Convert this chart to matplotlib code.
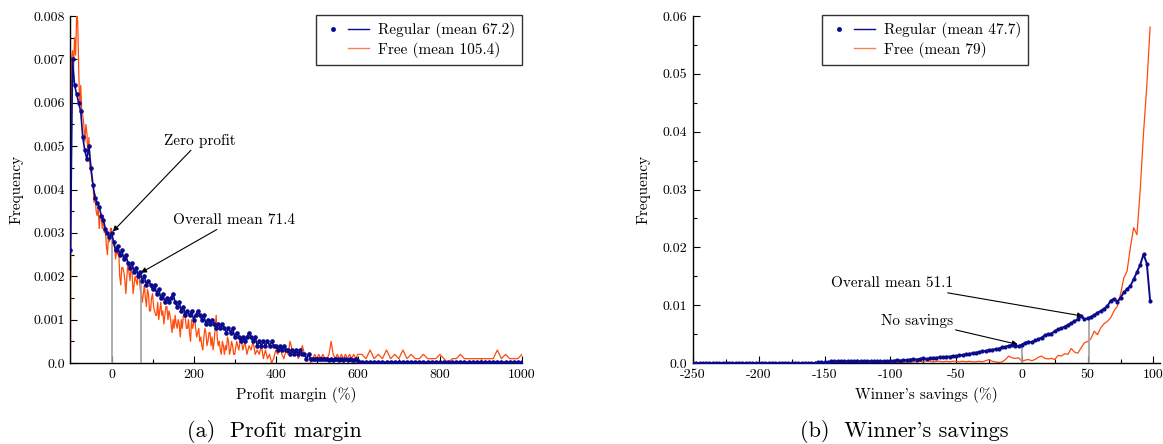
import numpy as np
import matplotlib
matplotlib.use("Agg")
import matplotlib.pyplot as plt
from matplotlib.lines import Line2D
from matplotlib.legend_handler import HandlerTuple

# ---------------- data: (a) profit margin ----------------
pm_reg_x = np.concatenate([np.arange(-100, 601, 5), np.arange(610, 1001, 10)])
pm_regular = [
    0.0026, 0.0070, 0.0064, 0.0062, 0.0060, 0.0058, 0.0052, 0.0049, 0.0047, 0.0050,
    0.0045, 0.0041, 0.0038, 0.0037, 0.0036, 0.0034, 0.0033, 0.0031, 0.0030, 0.0029,
    0.0030, 0.0028, 0.0026, 0.0027, 0.0025, 0.0026, 0.0024, 0.0025, 0.0023, 0.0022,
    0.0023, 0.0021, 0.0022, 0.0020, 0.0021, 0.0019, 0.0020, 0.0018, 0.0019, 0.0018,
    0.0017, 0.0018, 0.0016, 0.0017, 0.0015, 0.0016, 0.0014, 0.0015, 0.0014, 0.0015,
    0.0016, 0.0014, 0.0013, 0.0014, 0.0012, 0.0013, 0.0011, 0.0012, 0.0011, 0.0012,
    0.0010, 0.0011, 0.0012, 0.0011, 0.0010, 0.0011, 0.0009, 0.0010, 0.0009, 0.0010,
    0.0009, 0.0008, 0.0009, 0.0008, 0.0009, 0.0008, 0.0007, 0.0008, 0.0007, 0.0008,
    0.0006, 0.0007, 0.0006, 0.0005, 0.0006, 0.0005, 0.0006, 0.0007, 0.0006, 0.0005,
    0.0006, 0.0004, 0.0005, 0.0004, 0.0005, 0.0004, 0.0005, 0.0004, 0.0005, 0.0004,
    0.0004, 0.0003, 0.0004, 0.0003, 0.0004, 0.0003, 0.0003, 0.0002, 0.0003, 0.0002,
    0.0003, 0.0002, 0.0003, 0.0002, 0.0002, 0.0001, 0.0002, 0.0001, 0.0001, 0.0001,
    0.0001, 0.0001, 0.0001, 0.0001, 0.0001, 0.0001, 0.00007, 0.0001, 0.00007, 0.0001,
    0.0001, 0.00007, 0.0001, 0.00007, 0.0001, 0.00007, 0.0001, 0.00007, 0.00007, 0.0001,
    0.00005,
    # 610 .. 1000
    0.00002, 0.00002, 0.00002, 0.00002, 0.00002, 0.00002, 0.00002, 0.00002, 0.00002, 0.00002,
    0.00002, 0.00002, 0.00002, 0.00002, 0.00002, 0.00002, 0.00002, 0.00002, 0.00002, 0.00002,
    0.00002, 0.00002, 0.00002, 0.00002, 0.00002, 0.00002, 0.00002, 0.00002, 0.00002, 0.00002,
    0.00002, 0.00002, 0.00002, 0.00002, 0.00002, 0.00002, 0.00002, 0.00002, 0.00002, 0.00002,
]
pm_free_x = np.concatenate([np.arange(-100, 300.1, 2.5), np.arange(305, 601, 5),
                            np.arange(610, 1001, 10)])
pm_free = [
    # -100 .. 297.5 (step 2.5)
    0.0000, 0.0070, 0.0072, 0.0068, 0.0075, 0.0071, 0.0080, 0.0079, 0.0068, 0.0059,
    0.0064, 0.0058, 0.0057, 0.0055, 0.0051, 0.0055, 0.0053, 0.0048, 0.0052, 0.0045,
    0.0044, 0.0042, 0.0041, 0.0037, 0.0039, 0.0035, 0.0034, 0.0036, 0.0031, 0.0034,
    0.0034, 0.0031, 0.0034, 0.0030, 0.0031, 0.0027, 0.0025, 0.0029, 0.0028, 0.0031,
    0.0031, 0.0028, 0.0027, 0.0027, 0.0024, 0.0026, 0.0025, 0.0026, 0.0020, 0.0018,
    0.0022, 0.0022, 0.0021, 0.0019, 0.0016, 0.0020, 0.0023, 0.0021, 0.0019, 0.0022,
    0.0021, 0.0016, 0.0018, 0.0020, 0.0019, 0.0018, 0.0021, 0.0020, 0.0017, 0.0016,
    0.0014, 0.0016, 0.0018, 0.0015, 0.0013, 0.0017, 0.0016, 0.0012, 0.0012, 0.0015,
    0.0016, 0.0013, 0.0012, 0.0011, 0.0011, 0.0014, 0.0010, 0.0012, 0.0014, 0.0011,
    0.0012, 0.0009, 0.0011, 0.0013, 0.0013, 0.0010, 0.0012, 0.0011, 0.0009, 0.0007,
    0.0010, 0.0008, 0.0011, 0.0009, 0.0008, 0.0010, 0.0009, 0.0006, 0.0010, 0.0008,
    0.0011, 0.0012, 0.0010, 0.0008, 0.0008, 0.0010, 0.0007, 0.0005, 0.0010, 0.0008,
    0.0009, 0.0011, 0.0008, 0.0006, 0.0007, 0.0008, 0.0005, 0.0006, 0.0004, 0.0003,
    0.0006, 0.0008, 0.0007, 0.0004, 0.0005, 0.0007, 0.0007, 0.0004, 0.0006, 0.0003,
    0.0005, 0.0008, 0.0011, 0.0006, 0.0004, 0.0005, 0.0003, 0.0002, 0.0005, 0.0004,
    0.0002, 0.0004, 0.0003, 0.0006, 0.0005, 0.0002, 0.0003, 0.0005, 0.0004, 0.0002,
    0.0002,
    # 305 .. 600 (step 5)
    0.0005, 0.0003, 0.0006, 0.0003, 0.0005, 0.0002, 0.0004, 0.0003, 0.0005,
    0.0002, 0.0003, 0.0002, 0.0004, 0.0001, 0.0003, 0.0001, 0.0002, 0.0000, 0.0001,
    0.0003, 0.0002, 0.0004, 0.0002, 0.0001, 0.0003, 0.0002, 0.0005, 0.0003, 0.0002,
    0.0003, 0.0001, 0.0002, 0.0004, 0.0002, 0.0001, 0.0002, 0.0000, 0.0001, 0.0002,
    0.0001, 0.0002, 0.0001, 0.0002, 0.0001, 0.0001, 0.0002, 0.0005, 0.0002, 0.0001,
    0.0002, 0.0001, 0.0002, 0.0001, 0.0002, 0.0001, 0.0002, 0.0001, 0.0002, 0.0001,
    0.0002,
    # 610 .. 1000 (step 10)
    0.0002, 0.0001, 0.0003, 0.0001, 0.0002, 0.0001, 0.0003, 0.0001, 0.0002, 0.0001,
    0.0003, 0.0001, 0.0002, 0.0001, 0.0001, 0.0002, 0.0001, 0.0001, 0.0001, 0.0002,
    0.0001, 0.0000, 0.0001, 0.0001, 0.0002, 0.0001, 0.0001, 0.0001, 0.0001, 0.0001,
    0.0001, 0.0001, 0.0001, 0.0003, 0.0001, 0.0002, 0.0001, 0.0001, 0.0001, 0.0002,
]
pm_zero_x, pm_zero_y = 0.0, 0.00300
pm_mean_x, pm_mean_y = 71.4, 0.00205

# ---------------- data: (b) winner's savings ----------------
ws_reg_x = np.linspace(-250, 97.5, 140)
ws_regular = [
    # -250 .. -157.5
    0.0, 0.0, 0.0, 0.0, 0.0, 0.0, 0.0, 0.0, 0.0, 0.0,
    0.0, 0.0, 0.0, 0.0, 0.0, 0.0, 0.0, 0.0, 0.0, 0.0,
    0.0, 0.0, 0.0, 0.0, 0.0, 0.0, 0.0, 0.0, 0.0, 0.0,
    0.0, 0.0, 0.0, 0.0, 0.0, 0.0, 0.0, 0.0,
    # -155 .. -147.5
    0.0001, 0.0001, 0.0001, 0.0001,
    # -145 .. -102.5
    0.0003, 0.0003, 0.0003, 0.0003, 0.0003, 0.0003, 0.0003, 0.0003, 0.0003, 0.0003,
    0.0003, 0.0003, 0.0003, 0.0003, 0.0003, 0.0003, 0.0003, 0.0003,
    # -100 .. -77.5
    0.0004, 0.0004, 0.0005, 0.0004, 0.0005, 0.0005, 0.0006, 0.0007, 0.0006, 0.0007,
    # -75 .. -52.5
    0.0008, 0.0007, 0.0008, 0.0009, 0.0009, 0.0010, 0.0010, 0.0011, 0.0011, 0.0012,
    # -50 .. -27.5
    0.0012, 0.0013, 0.0014, 0.0015, 0.0016, 0.0017, 0.0018, 0.0019, 0.0020, 0.0021,
    # -25 .. -2.5
    0.0022, 0.0023, 0.0024, 0.0025, 0.0027, 0.0028, 0.0030, 0.0031, 0.0030, 0.0029,
    # 0 .. 22.5
    0.0032, 0.0035, 0.0037, 0.0036, 0.0039, 0.0041, 0.0044, 0.0048, 0.0050, 0.0051,
    # 25 .. 47.5
    0.0055, 0.0058, 0.0060, 0.0063, 0.0066, 0.0069, 0.0072, 0.0076, 0.0081, 0.0076,
    # 50 .. 72.5
    0.0077, 0.0080, 0.0083, 0.0087, 0.0090, 0.0094, 0.0098, 0.0108, 0.0111, 0.0106,
    # 75 .. 97.5
    0.0113, 0.0122, 0.0128, 0.0133, 0.0145, 0.0157, 0.0170, 0.0188, 0.0172, 0.0108,
]
ws_free_x = np.linspace(-145, 97.5, 98)
ws_free = [
    # -145 .. -122.5
    0.0001, 0.0001, 0.0001, 0.0001, 0.0001, 0.0002, 0.0001, 0.0001, 0.0001, 0.0002,
    # -120 .. -97.5
    0.0001, 0.0001, 0.0002, 0.0001, 0.0001, 0.0002, 0.0001, 0.0002, 0.0001, 0.0002,
    # -95 .. -72.5
    0.0001, 0.0002, 0.0002, 0.0001, 0.0002, 0.0002, 0.0002, 0.0003, 0.0002, 0.0004,
    # -70 .. -47.5
    0.0003, 0.0002, 0.0003, 0.0003, 0.0002, 0.0003, 0.0002, 0.0003, 0.0003, 0.0002,
    # -45 .. -22.5
    0.0003, 0.0002, 0.0003, 0.0002, 0.0002, 0.0003, 0.0002, 0.0004, 0.0006, 0.0003,
    # -20 .. 2.5
    0.0002, 0.0001, 0.0002, 0.0006, 0.0012, 0.0009, 0.0008, 0.0009, 0.0003, 0.0005,
    # 5 .. 27.5
    0.0006, 0.0004, 0.0006, 0.0010, 0.0012, 0.0008, 0.0007, 0.0008, 0.0006, 0.0013,
    # 30 .. 52.5
    0.0012, 0.0016, 0.0015, 0.0025, 0.0019, 0.0017, 0.0026, 0.0035, 0.0037, 0.0042,
    # 55 .. 77.5
    0.0055, 0.0049, 0.0061, 0.0068, 0.0072, 0.0078, 0.0090, 0.0098, 0.0119, 0.0147,
    # 80 .. 97.5
    0.0159, 0.0200, 0.0234, 0.0222, 0.0300, 0.0398, 0.0480, 0.0581,
]
ws_nosav_x, ws_nosav_y = 0.0, 0.0031
ws_mean_x, ws_mean_y = 51.1, 0.0077

# ---------------- style ----------------
plt.rcParams['font.family'] = ['cmr10', 'DejaVu Serif']
plt.rcParams['axes.unicode_minus'] = False
plt.rcParams['mathtext.fontset'] = 'cm'

BLUE = '#0a0a8c'
ORANGE = '#ff4a0a'
GRAY = '#a0a0a0'
TICK_FS = 10
LAB_FS = 11

fig = plt.figure(figsize=(11.63, 4.44), dpi=100)
axL = fig.add_axes([0.0606, 0.1824, 0.3882, 0.7815])
axR = fig.add_axes([0.5959, 0.1824, 0.4015, 0.7815])

def style(ax):
    for s in ('top', 'right'):
        ax.spines[s].set_visible(False)
    for s in ('left', 'bottom'):
        ax.spines[s].set_linewidth(1.0)
    ax.tick_params(which='both', direction='in', top=False, right=False,
                   labelsize=TICK_FS, width=0.8, pad=4)
    ax.tick_params(which='major', length=5)
    ax.tick_params(which='minor', length=3)

def legend(ax, labels, loc, anchor):
    h1 = (Line2D([], [], ls='none', marker='o', ms=2.5, color=BLUE),
          Line2D([], [], color=BLUE, lw=1.0))
    h2 = (Line2D([], [], ls='none', marker=None, color='none'),
          Line2D([], [], color=ORANGE, lw=1.0, alpha=0.7))
    leg = ax.legend([h1, h2], labels, loc=loc, bbox_to_anchor=anchor,
                    borderaxespad=0, fancybox=False, framealpha=1,
                    edgecolor='#333333', fontsize=LAB_FS, handlelength=3.0,
                    handletextpad=0.6, labelspacing=0.25, borderpad=0.45,
                    handler_map={tuple: HandlerTuple(ndivide=None, pad=0.3)})
    leg.get_frame().set_linewidth(1.0)

ARROW = dict(arrowstyle='-|>', color='black', lw=0.8, mutation_scale=8,
             shrinkA=0, shrinkB=0)

# ---- left panel ----
style(axL)
axL.plot(pm_free_x, pm_free, color=ORANGE, lw=0.9, zorder=2)
axL.vlines([pm_zero_x, pm_mean_x], 0, [pm_zero_y, pm_mean_y], color=GRAY, lw=1.2, zorder=3)
axL.plot(pm_reg_x, pm_regular, color=BLUE, lw=1.2, marker='o', ms=2.3, zorder=4)
axL.set_xlim(-100, 1000)
axL.set_ylim(0, 0.008)
axL.set_xticks([0, 200, 400, 600, 800, 1000])
axL.set_xticks([100, 300, 500, 700, 900], minor=True)
yt = [0.0, 0.001, 0.002, 0.003, 0.004, 0.005, 0.006, 0.007, 0.008]
axL.set_yticks(yt)
axL.set_yticklabels(['0.0', '0.001', '0.002', '0.003', '0.004', '0.005', '0.006', '0.007', '0.008'])
axL.set_yticks(np.arange(0.0005, 0.008, 0.001), minor=True)
axL.set_xlabel('Profit margin (%)', fontsize=LAB_FS)
axL.set_ylabel('Frequency', fontsize=LAB_FS)
axL.xaxis.set_label_coords(0.5, -0.07)
axL.yaxis.set_label_coords(-0.104, 0.5)
axL.annotate('Zero profit', xy=(pm_zero_x + 3, pm_zero_y + 0.00003), xytext=(129, 0.00513),
             fontsize=LAB_FS, ha='left', va='center', arrowprops=ARROW)
axL.annotate('Overall mean 71.4', xy=(pm_mean_x, pm_mean_y + 0.00003), xytext=(149, 0.00330),
             fontsize=LAB_FS, ha='left', va='center', arrowprops=ARROW)
legend(axL, ['Regular (mean 67.2)', 'Free (mean 105.4)'], 'upper right', (1.0, 1.003))

# ---- right panel ----
style(axR)
axR.plot(ws_free_x, ws_free, color=ORANGE, lw=0.9, zorder=2)
axR.vlines([ws_nosav_x, ws_mean_x], 0, [ws_nosav_y, ws_mean_y], color=GRAY, lw=1.2, zorder=3)
axR.plot(ws_reg_x, ws_regular, color=BLUE, lw=1.4, marker='o', ms=2.0, zorder=4)
axR.set_xlim(-250, 105)
axR.set_ylim(0, 0.06)
axR.set_xticks(np.arange(-250, 101, 50))
axR.set_xticks(np.arange(-225, 100, 50), minor=True)
axR.set_yticks([0.0, 0.01, 0.02, 0.03, 0.04, 0.05, 0.06])
axR.set_yticklabels(['0.0', '0.01', '0.02', '0.03', '0.04', '0.05', '0.06'])
axR.set_yticks(np.arange(0.005, 0.06, 0.01), minor=True)
axR.set_xlabel("Winner's savings (%)", fontsize=LAB_FS)
axR.set_ylabel('Frequency', fontsize=LAB_FS)
axR.xaxis.set_label_coords(0.5, -0.07)
axR.yaxis.set_label_coords(-0.090, 0.5)
axR.annotate('Overall mean 51.1', xy=(ws_mean_x - 4.5, ws_mean_y + 0.0004), xytext=(-52.5, 0.0138),
             fontsize=LAB_FS, ha='right', va='center', arrowprops=ARROW)
axR.annotate('No savings', xy=(ws_nosav_x - 3, ws_nosav_y + 0.0001), xytext=(-52.5, 0.0073),
             fontsize=LAB_FS, ha='right', va='center', arrowprops=ARROW)
legend(axR, ['Regular (mean 47.7)', 'Free (mean 79)'], 'upper center', (0.4975, 1.003))

# ---- captions ----
fig.text(274 / 1163, 1 - 431 / 444, '(a)  Profit margin', fontsize=16, ha='center', va='center')
fig.text(904 / 1163, 1 - 431 / 444, "(b)  Winner's savings", fontsize=16, ha='center', va='center')

fig.savefig('out.png', dpi=100)
